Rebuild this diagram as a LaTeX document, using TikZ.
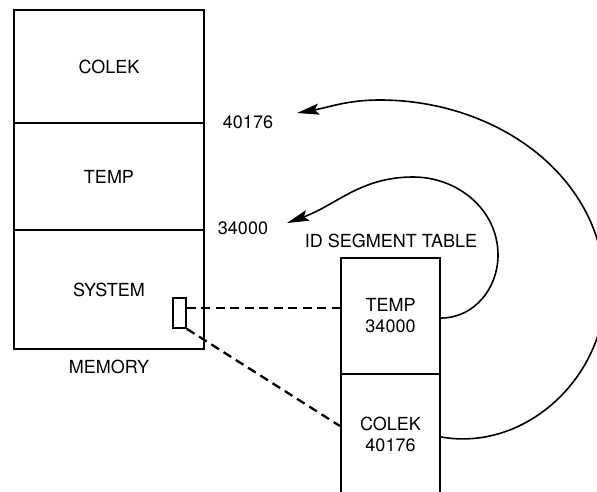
\documentclass[tikz,border=0pt]{standalone}
\usepackage{fontspec}
\setmainfont{TeX Gyre Heros}
\usetikzlibrary{arrows.meta}

\begin{document}
\begin{tikzpicture}[x=1pt,y=1pt,
    every node/.style={font=\fontsize{18}{21}\selectfont},
    cell/.style={draw, line width=2.2pt, minimum width=190pt, inner sep=0pt},
    tabcell/.style={draw, line width=2.2pt, minimum width=99pt, inner sep=0pt, align=center},
    link/.style={line width=2.3pt, dash pattern=on 9pt off 5.5pt},
    jump/.style={line width=1.6pt, -{Stealth[length=22pt,width=11pt,inset=4pt]}}]
  \useasboundingbox (0,0) rectangle (597,491);

  % memory column
  \node[cell, minimum height=113pt] (colek)  at (109,424.5) {COLEK};
  \node[cell, minimum height=107pt] (temp)   at (109,314.5) {TEMP};
  \node[cell, minimum height=119pt] (system) at (109,201.5) {SYSTEM};
  \node (memory) at (109,124) {MEMORY};

  % pointer inside system area
  \node[draw, line width=1.7pt, minimum width=13pt, minimum height=30pt, inner sep=0pt] (ptr) at (179.5,178) {};

  % load addresses
  \node (a40176) at (248,369) {40176};
  \node (a34000) at (243,263) {34000};

  % id segment table
  \node (idtitle) at (391,250) {ID SEGMENT TABLE};
  \node[tabcell, minimum height=116pt] (tabtemp)  at (390.5,175)  {TEMP\\34000};
  \node[tabcell, minimum height=121pt] (tabcolek) at (390.5,56.5) {COLEK\\40176};

  % dashed links from the pointer
  \coordinate (ptrhi) at ([yshift=5pt]ptr.east);
  \draw[link] (ptrhi) -- (ptrhi -| tabtemp.west);
  \draw[link] (ptr.south east) -- ([yshift=8.5pt]tabcolek.west);

  % arrows back to the addresses
  \coordinate (tiptemp)  at (287,268);
  \coordinate (tipcolek) at (297,378);
  \draw[jump] ([yshift=-2pt]tabtemp.east) to[out=0,in=-90] (498,236)
    to[out=90,in=0] (413,314) to[out=180,in=20] (tiptemp);
  \draw[jump] ([yshift=-2.5pt]tabcolek.east) to[out=-10,in=-90] (605,200)
    to[out=90,in=0] (380,391) to[out=180,in=10] (tipcolek);
\end{tikzpicture}
\end{document}
